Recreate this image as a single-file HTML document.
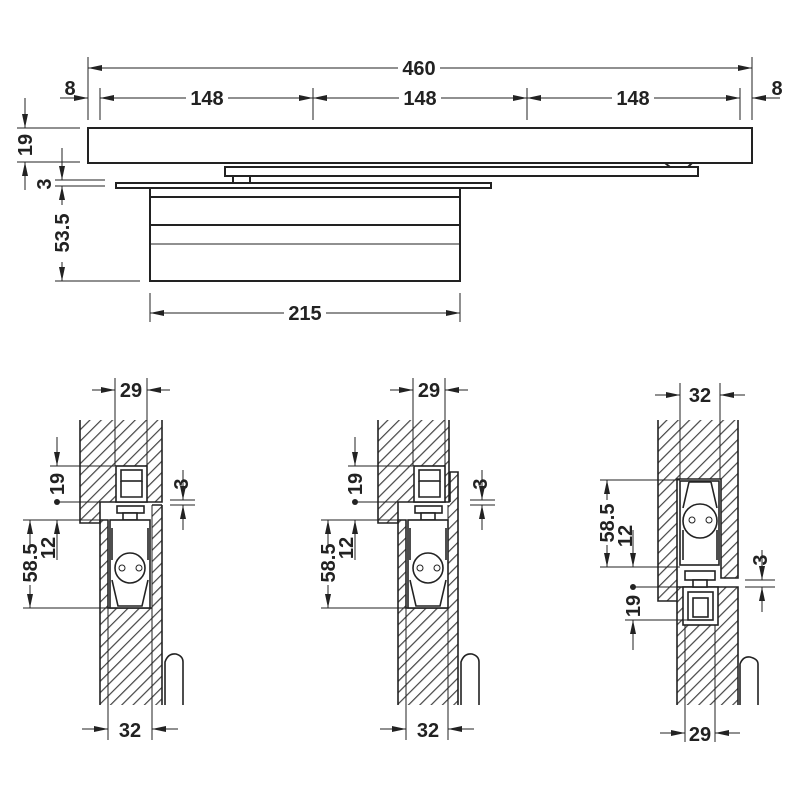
<!DOCTYPE html>
<html><head><meta charset="utf-8"><style>
html,body{margin:0;padding:0;background:#fff;}
svg{display:block}
text{font-family:"Liberation Sans",sans-serif;font-weight:bold;font-size:20px;fill:#222;}
</style></head><body>
<svg width="800" height="800" viewBox="0 0 800 800" xmlns="http://www.w3.org/2000/svg">
<defs>
<pattern id="h" patternUnits="userSpaceOnUse" width="8" height="8" patternTransform="rotate(45)">
<rect width="8" height="8" fill="#fff"/><line x1="0.6" y1="0" x2="0.6" y2="8" stroke="#444" stroke-width="1.2"/>
</pattern>
<marker id="a" viewBox="0 0 14 6" refX="14" refY="3" markerWidth="14" markerHeight="6" markerUnits="userSpaceOnUse" orient="auto-start-reverse"><path d="M0,0 L14,3 L0,6z" fill="#222"/></marker>
</defs>
<g fill="none" stroke="#222" stroke-width="1">
<g stroke-width="2">
<rect x="88" y="128" width="664" height="35" fill="#fff"/>
<rect x="225" y="167" width="473" height="9" fill="#fff"/>
<path d="M665,163 L670,167 M692,163 L688,167"/>
<rect x="233" y="176" width="17" height="7" fill="#fff"/>
<rect x="116" y="183" width="375" height="5" fill="#fff"/>
<rect x="150" y="188" width="310" height="93" fill="#fff"/>
<line x1="150" y1="197" x2="460" y2="197"/>
<line x1="150" y1="225" x2="460" y2="225"/>
</g>
<line x1="150" y1="244" x2="460" y2="244"/>
<path d="M88,57 V120 M752,57 V120 M100,88 V120 M313,88 V120 M527,88 V120 M740,88 V120"/>
<line x1="88" y1="68" x2="752" y2="68" marker-start="url(#a)" marker-end="url(#a)"/>
<line x1="100" y1="98" x2="313" y2="98" marker-start="url(#a)" marker-end="url(#a)"/>
<line x1="313" y1="98" x2="527" y2="98" marker-start="url(#a)" marker-end="url(#a)"/>
<line x1="527" y1="98" x2="740" y2="98" marker-start="url(#a)" marker-end="url(#a)"/>
<line x1="60" y1="98" x2="88" y2="98" marker-end="url(#a)"/>
<line x1="780" y1="98" x2="752" y2="98" marker-end="url(#a)"/>
<path d="M17,128 H80 M17,162 H80 M55,180 H105 M55,186 H105 M55,281 H140"/>
<line x1="25" y1="98" x2="25" y2="128" marker-end="url(#a)"/>
<line x1="25" y1="190" x2="25" y2="162" marker-end="url(#a)"/>
<path d="M62,148 V165" stroke-dasharray="6,4"/>
<line x1="62" y1="150" x2="62" y2="180" marker-end="url(#a)"/>
<line x1="62" y1="205" x2="62" y2="186" marker-end="url(#a)"/>
<line x1="62" y1="262" x2="62" y2="281" marker-end="url(#a)"/>
<path d="M150,293 V322 M460,293 V322"/>
<line x1="150" y1="313" x2="460" y2="313" marker-start="url(#a)" marker-end="url(#a)"/>
</g>
<g fill="#fff">
<rect x="398" y="58" width="42" height="20"/>
<rect x="186" y="88" width="42" height="20"/><rect x="399" y="88" width="42" height="20"/><rect x="612" y="88" width="42" height="20"/>
<rect x="284" y="303" width="42" height="20"/>
<rect x="52" y="212" width="20" height="42"/>
</g>
<text x="419" y="75" text-anchor="middle">460</text>
<text x="207" y="105" text-anchor="middle">148</text>
<text x="420" y="105" text-anchor="middle">148</text>
<text x="633" y="105" text-anchor="middle">148</text>
<text x="70" y="95" text-anchor="middle">8</text>
<text x="777" y="95" text-anchor="middle">8</text>
<text x="305" y="320" text-anchor="middle">215</text>
<text transform="translate(32,145) rotate(-90)" text-anchor="middle">19</text>
<text transform="translate(51,184) rotate(-90)" text-anchor="middle">3</text>
<text transform="translate(69,233) rotate(-90)" text-anchor="middle">53.5</text>

<g>
<g stroke="#222" stroke-width="1.6">
<polygon points="80,420 162,420 162,502 100,502 100,523 80,523" fill="url(#h)" stroke="none"/>
<rect x="100" y="505" width="62" height="200" fill="url(#h)" stroke="none"/>
<rect x="108" y="502" width="44" height="106" fill="#fff" stroke="none"/>
<rect x="100" y="502" width="52" height="18" fill="#fff" stroke="none"/>
<path d="M80,420 V523 H100 V502 H162 V420" fill="none"/>
<rect x="116" y="466" width="31" height="36" fill="#fff"/>
<rect x="121" y="470" width="21" height="11" fill="#fff"/>
<path d="M121,481 V497 H142 V481" fill="none"/>
<rect x="117" y="506" width="27" height="7" fill="#fff"/>
<rect x="123" y="513" width="14" height="7" fill="#fff"/>
<path d="M100,520 V705 M162,505 V705 M152,505 H162 M100,520 H108 V608 H152" fill="none"/>
<rect x="110" y="520" width="40" height="88" fill="#fff"/>
<path d="M112,528 V560 M148,528 V560 M112,580 L118,606 H142 L148,580" fill="none"/>
<circle cx="130" cy="568" r="15" fill="#fff"/>
<path d="M165,705 V662 Q168,653 176,654 Q183,656 183,662 V705" fill="#fff"/>
</g>
<g fill="none" stroke="#222" stroke-width="1">
<circle cx="122" cy="568" r="3"/><circle cx="139" cy="568" r="3"/>
<path d="M152,505 V740 M108,608 V740 M115,378 V466 M147,378 V466"/>
<line x1="92" y1="390" x2="115" y2="390" marker-end="url(#a)"/>
<line x1="170" y1="390" x2="147" y2="390" marker-end="url(#a)"/>
<line x1="82" y1="729" x2="108" y2="729" marker-end="url(#a)"/>
<line x1="178" y1="729" x2="152" y2="729" marker-end="url(#a)"/>
<path d="M50,466 H115 M57,502 H100 M170,500 H195 M170,505 H195 M23,520 H108 M23,608 H110"/>
<line x1="57" y1="437" x2="57" y2="466" marker-end="url(#a)"/>
<line x1="183" y1="470" x2="183" y2="500" marker-end="url(#a)"/>
<line x1="183" y1="530" x2="183" y2="505" marker-end="url(#a)"/>
<line x1="30" y1="545" x2="30" y2="520" marker-end="url(#a)"/>
<line x1="30" y1="585" x2="30" y2="608" marker-end="url(#a)"/>
<line x1="57" y1="560" x2="57" y2="520" marker-end="url(#a)"/>
</g>
<circle cx="57" cy="502" r="3" fill="#222"/>
<rect x="20" y="548" width="20" height="32" fill="#fff"/>
<text x="131" y="397" text-anchor="middle">29</text>
<text x="130" y="737" text-anchor="middle">32</text>
<text transform="translate(64,484) rotate(-90)" text-anchor="middle">19</text>
<text transform="translate(188,484) rotate(-90)" text-anchor="middle">3</text>
<text transform="translate(37,563) rotate(-90)" text-anchor="middle">58.5</text>
<text transform="translate(55,548) rotate(-90)" text-anchor="middle">12</text>
</g>

<g transform="translate(298,0)">
<g stroke="#222" stroke-width="1.6">
<polygon points="80,420 151,420 151,502 100,502 100,523 80,523" fill="url(#h)" stroke="none"/>
<rect x="100" y="505" width="60" height="200" fill="url(#h)" stroke="none"/>
<rect x="152" y="472" width="8" height="33" fill="url(#h)" stroke="none"/>
<rect x="108" y="502" width="42" height="106" fill="#fff" stroke="none"/>
<rect x="100" y="502" width="50" height="18" fill="#fff" stroke="none"/>
<path d="M80,420 V523 H100 V502 H151 V420" fill="none"/>
<path d="M151,472 H160 V705 M152,472 V502" fill="none"/>
<rect x="116" y="466" width="31" height="36" fill="#fff"/>
<rect x="121" y="470" width="21" height="11" fill="#fff"/>
<path d="M121,481 V497 H142 V481" fill="none"/>
<rect x="117" y="506" width="27" height="7" fill="#fff"/>
<rect x="123" y="513" width="14" height="7" fill="#fff"/>
<path d="M100,520 V705 M100,520 H108 V608 H150" fill="none"/>
<rect x="110" y="520" width="40" height="88" fill="#fff"/>
<path d="M112,528 V560 M148,528 V560 M112,580 L118,606 H142 L148,580" fill="none"/>
<circle cx="130" cy="568" r="15" fill="#fff"/>
<path d="M163,705 V662 Q166,653 174,654 Q181,656 181,662 V705" fill="#fff"/>
</g>
<g fill="none" stroke="#222" stroke-width="1">
<circle cx="122" cy="568" r="3"/><circle cx="139" cy="568" r="3"/>
<path d="M150,505 V740 M108,608 V740 M115,378 V466 M147,378 V466"/>
<line x1="92" y1="390" x2="115" y2="390" marker-end="url(#a)"/>
<line x1="170" y1="390" x2="147" y2="390" marker-end="url(#a)"/>
<line x1="82" y1="729" x2="108" y2="729" marker-end="url(#a)"/>
<line x1="176" y1="729" x2="150" y2="729" marker-end="url(#a)"/>
<path d="M50,466 H115 M57,502 H100 M172,500 H197 M172,505 H197 M23,520 H108 M23,608 H110"/>
<line x1="57" y1="437" x2="57" y2="466" marker-end="url(#a)"/>
<line x1="184" y1="470" x2="184" y2="500" marker-end="url(#a)"/>
<line x1="184" y1="530" x2="184" y2="505" marker-end="url(#a)"/>
<line x1="30" y1="545" x2="30" y2="520" marker-end="url(#a)"/>
<line x1="30" y1="585" x2="30" y2="608" marker-end="url(#a)"/>
<line x1="57" y1="560" x2="57" y2="520" marker-end="url(#a)"/>
</g>
<circle cx="57" cy="502" r="3" fill="#222"/>
<rect x="20" y="548" width="20" height="32" fill="#fff"/>
<text x="131" y="397" text-anchor="middle">29</text>
<text x="130" y="737" text-anchor="middle">32</text>
<text transform="translate(64,484) rotate(-90)" text-anchor="middle">19</text>
<text transform="translate(189,484) rotate(-90)" text-anchor="middle">3</text>
<text transform="translate(37,563) rotate(-90)" text-anchor="middle">58.5</text>
<text transform="translate(55,548) rotate(-90)" text-anchor="middle">12</text>
</g>

<g stroke="#222" stroke-width="1.6">
<polygon points="658,420 738,420 738,578 721,578 721,479 677,479 677,601 658,601" fill="url(#h)" stroke="none"/>
<polygon points="677,587 738,587 738,705 677,705" fill="url(#h)" stroke="none"/>
<path d="M658,420 V601 H677 M738,420 V578 H721 V479 H677 V601" fill="none"/>
<path d="M677,587 H738 V705 M677,601 V705" fill="none"/>
<rect x="683" y="587" width="35" height="38" fill="#fff"/>
<rect x="688" y="592" width="25" height="28" fill="#fff"/>
<rect x="693" y="598" width="15" height="19" fill="#fff"/>
<rect x="685" y="571" width="30" height="9" fill="#fff"/>
<rect x="693" y="580" width="14" height="7" fill="#fff"/>
<rect x="680" y="481" width="39" height="84" fill="#fff"/>
<path d="M689,482 L683,508 M711,482 L717,508 M689,482 H711 M683,530 V560 M717,530 V560" fill="none"/>
<circle cx="700" cy="521" r="17" fill="#fff"/>
<path d="M740,705 V664 Q743,656 750,657 Q758,659 758,664 V705" fill="#fff"/>
</g>
<g fill="none" stroke="#222" stroke-width="1">
<circle cx="692" cy="520" r="3"/><circle cx="709" cy="520" r="3"/>
<path d="M680,383 V479 M720,383 V479 M685,625 V742 M715,625 V742"/>
<line x1="655" y1="395" x2="680" y2="395" marker-end="url(#a)"/>
<line x1="745" y1="395" x2="720" y2="395" marker-end="url(#a)"/>
<line x1="660" y1="733" x2="685" y2="733" marker-end="url(#a)"/>
<line x1="740" y1="733" x2="715" y2="733" marker-end="url(#a)"/>
<path d="M600,480 H680 M600,567 H680 M633,587 H680 M625,620 H688 M745,580 H775 M745,587 H775"/>
<line x1="607" y1="500" x2="607" y2="480" marker-end="url(#a)"/>
<line x1="607" y1="545" x2="607" y2="567" marker-end="url(#a)"/>
<line x1="633" y1="530" x2="633" y2="567" marker-end="url(#a)"/>
<line x1="633" y1="650" x2="633" y2="620" marker-end="url(#a)"/>
<line x1="762" y1="550" x2="762" y2="580" marker-end="url(#a)"/>
<line x1="762" y1="612" x2="762" y2="587" marker-end="url(#a)"/>
</g>
<circle cx="633" cy="587" r="3" fill="#222"/>
<text x="700" y="402" text-anchor="middle">32</text>
<text x="700" y="741" text-anchor="middle">29</text>
<text transform="translate(614,523) rotate(-90)" text-anchor="middle">58.5</text>
<text transform="translate(632,536) rotate(-90)" text-anchor="middle">12</text>
<text transform="translate(640,606) rotate(-90)" text-anchor="middle">19</text>
<text transform="translate(767,560) rotate(-90)" text-anchor="middle">3</text>
</svg>
</body></html>
